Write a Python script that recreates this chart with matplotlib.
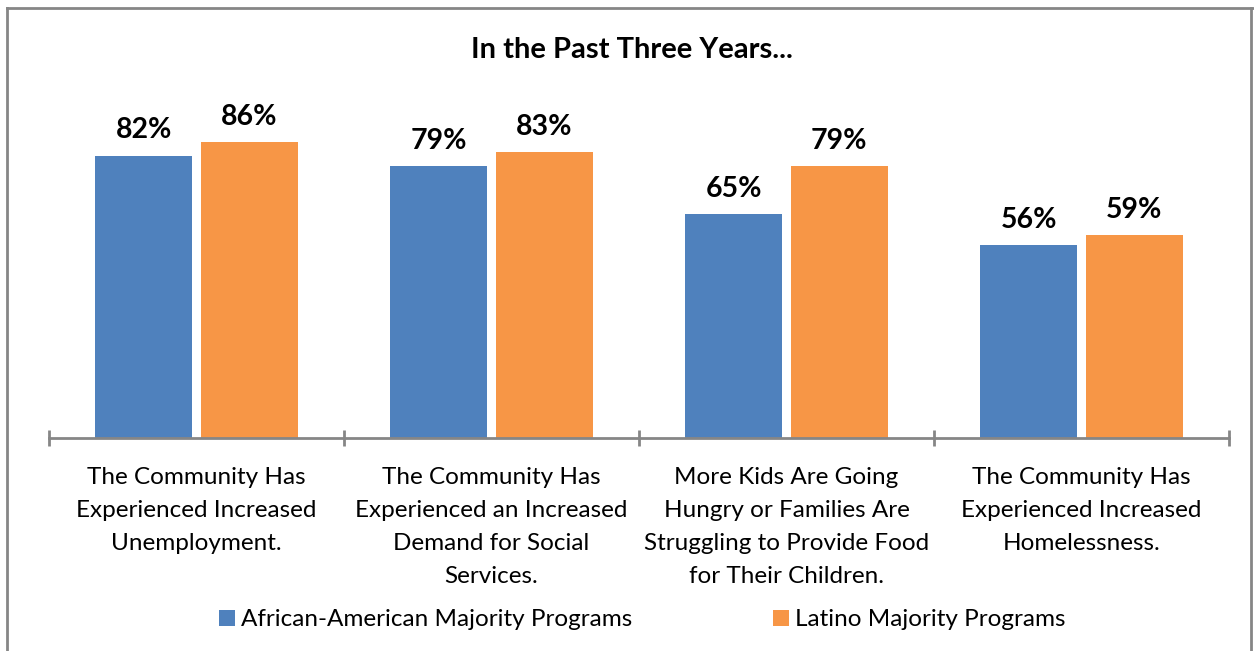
import matplotlib.pyplot as plt
import numpy as np

plt.rcParams['font.family'] = ['Lato', 'DejaVu Sans']

categories = ["The Community Has\nExperienced Increased\nUnemployment.",
              "The Community Has\nExperienced an Increased\nDemand for Social\nServices.",
              "More Kids Are Going\nHungry or Families Are\nStruggling to Provide Food\nfor Their Children.",
              "The Community Has\nExperienced Increased\nHomelessness."]
african_american = [82, 79, 65, 56]
latino = [86, 83, 79, 59]
series_names = ["African-American Majority Programs", "Latino Majority Programs"]

blue = '#4F81BD'
orange = '#F79646'
gray = '#868686'

W, H = 1254, 651
fig = plt.figure(figsize=(W / 100, H / 100), dpi=100)
ax = fig.add_axes([49 / W, 1 - 438 / H, (1229 - 49) / W, (438 - 94) / H])

x = np.arange(len(categories))
bw = 0.329
off = 0.179
b1 = ax.bar(x - off, african_american, bw, color=blue, label=series_names[0])
b2 = ax.bar(x + off, latino, bw, color=orange, label=series_names[1])

for bars, vals in ((b1, african_american), (b2, latino)):
    for rect, v in zip(bars, vals):
        ax.annotate(f"{v}%", (rect.get_x() + rect.get_width() / 2, v),
                    xytext=(0, 9), textcoords='offset points',
                    ha='center', va='bottom', fontsize=20.5, fontweight='bold')

ax.set_xlim(-0.5, len(categories) - 0.5)
ax.set_ylim(0, 100)
for s in ('top', 'right', 'left'):
    ax.spines[s].set_visible(False)
ax.spines['bottom'].set_color(gray)
ax.spines['bottom'].set_linewidth(2)
ax.set_yticks([])
ax.set_xticks(x)
ax.set_xticklabels(categories, fontsize=17.5, linespacing=1.7)
ax.tick_params(axis='x', which='major', length=0, pad=21)
ax.set_xticks(np.arange(-0.5, len(categories)), minor=True)
ax.tick_params(axis='x', which='minor', direction='inout', length=12,
               width=2, color=gray)

fig.text(632 / W, 1 - 50 / H, "In the Past Three Years...", ha='center',
         va='center', fontsize=21, fontweight='bold')

fig.legend(handles=[b1, b2], loc='center', bbox_to_anchor=(642 / W, 1 - 620 / H),
           ncol=2, frameon=False, fontsize=17.5, handlelength=0.65, handleheight=0.65,
           handletextpad=0.25, columnspacing=5.8)

# chart border
fig.add_artist(plt.Line2D([7 / W, 7 / W], [0, 1 - 8 / H], transform=fig.transFigure,
                          color=gray, lw=2))
fig.add_artist(plt.Line2D([7 / W, 1], [1 - 8 / H, 1 - 8 / H], transform=fig.transFigure,
                          color=gray, lw=2))
fig.add_artist(plt.Line2D([1251 / W, 1251 / W], [0, 1 - 8 / H], transform=fig.transFigure,
                          color=gray, lw=2))

fig.savefig('out.png', dpi=100)
